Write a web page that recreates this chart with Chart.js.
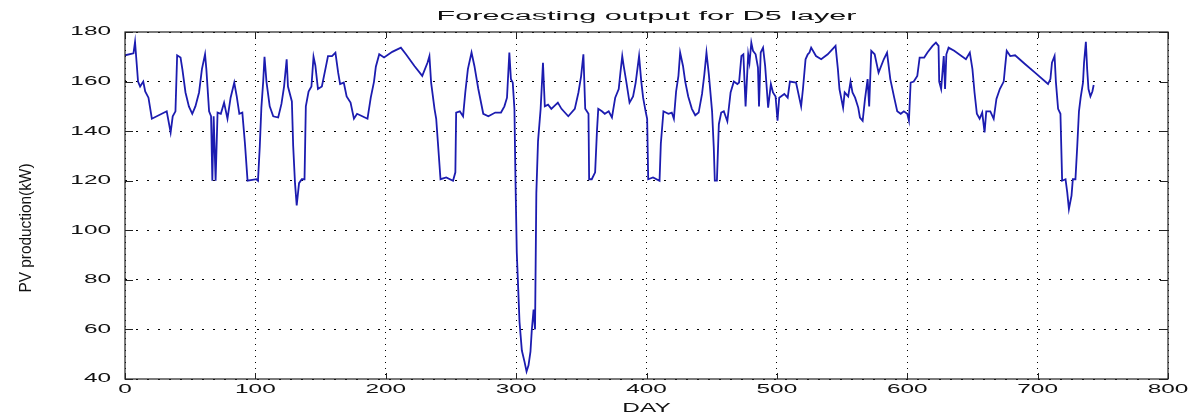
<!DOCTYPE html>
<html lang="en">
<head>
<meta charset="UTF-8">
<title>Forecasting output for D5 layer</title>
<script src="https://cdn.jsdelivr.net/npm/chart.js"></script>
<style>
    html, body { margin: 0; padding: 0; background: #fff; }
    canvas { display: block; }
</style>
</head>
<body>
<canvas id="pvChart" width="1201" height="419"></canvas>
<script>
// day of each reading
const days = [
    0, 6.5, 7.7, 9, 10, 11.6, 14, 15.5, 18, 20.6,
    32, 35, 36.6, 38.7, 40, 42.6, 44, 46.4, 49, 51.6,
    54, 56.8, 59, 61.4, 62.4, 64.5, 66, 67, 68, 69.5,
    71, 73.5, 76, 78.6, 81, 83.8, 85.7, 87.7, 90, 92,
    94, 100.8, 102, 103.4, 104.6, 106, 107, 108.5, 111, 113.7,
    117.5, 120, 122, 124, 125, 128, 129, 130.4, 131.7, 133.5,
    135.6, 137.7, 138.7, 140.8, 143, 144.6, 146, 148, 151, 153.7,
    155.7, 158.8, 161.4, 163.5, 165, 167.8, 170, 173, 175.6, 178,
    182, 186, 188.5, 191, 192.4, 195, 198.7, 205, 211.6, 215.5,
    222, 228, 232, 233.5, 234.8, 237.4, 238.7, 240, 242, 246.4,
    251.6, 253.4, 254, 256.8, 259.3, 261, 263, 265.8, 268, 271,
    274.8, 278.7, 284, 288.4, 291, 293, 294.8, 296, 297.4, 298.7,
    299.5, 300.5, 302.6, 304.4, 306.5, 308, 309.5, 311, 312, 313.4,
    314.5, 315.5, 316.8, 318.8, 320.6, 322, 324.5, 327, 332, 334.8,
    340, 345, 347.8, 349.8, 351.6, 353, 355.5, 356, 358, 360.6,
    362, 363, 365.8, 368, 371, 373.5, 376, 378.7, 380, 381.4,
    382.5, 384.5, 387, 389.7, 391.7, 394.3, 396, 397.4, 399.5, 400.5,
    401.3, 405, 410, 411, 413, 416.8, 419.4, 421, 422.7, 424.5,
    425.8, 428, 429.7, 432, 434.8, 437.4, 440, 442.6, 444.4, 446,
    447.8, 450.3, 451.6, 452.4, 454, 455.5, 457.3, 459.3, 462, 464.5,
    467, 469.7, 471, 472.8, 474.3, 476, 478, 479, 480.4, 481.7,
    483.7, 485.5, 486.3, 487.6, 489.4, 491, 492, 493.3, 495.4, 497,
    499, 500.5, 501.8, 505.7, 508.3, 510, 514.7, 518.6, 520, 522,
    523.7, 525, 526.3, 530, 534, 539, 545, 546.8, 548, 550.8,
    552, 554.7, 556.5, 558, 560, 562.4, 563.7, 565.8, 567.6, 569.6,
    570.8, 572.4, 575, 578, 582, 584.5, 587, 590, 592.3, 595,
    597.4, 600, 601.3, 602.6, 605, 607.7, 609.5, 613, 615.5, 619.4,
    622, 624, 624.5, 626, 628, 629, 630, 631.7, 636, 645,
    648, 650, 651.6, 653.4, 655.5, 657.5, 659.3, 660.6, 663.7, 666.3,
    668.4, 671, 674, 675, 676.3, 679, 682.7, 690.5, 698, 708,
    709.8, 711, 713, 714, 715.7, 717.5, 718.8, 721.4, 722.7, 724,
    726, 727, 729, 730.4, 731.7, 733, 734.8, 735.6, 737, 738,
    739, 740.5, 742, 743
];

// PV production (kW) for each day above
const pvOutput = [
    170.6, 171.4, 176, 167, 160, 158, 160, 156, 153.5, 145,
    148, 139.5, 146, 148, 170.6, 169.7, 165, 155.6, 150, 147,
    150, 155.6, 165, 171, 165, 148, 146, 120, 146, 120,
    147.5, 147, 151.5, 145, 153.5, 159.6, 154, 147, 147.5, 135,
    120, 120.6, 120, 134, 149.5, 160, 170, 160, 150, 146,
    145.5, 151, 158, 169, 158, 152, 134, 119, 110, 119,
    120.6, 120.6, 150, 156, 158, 170, 166.5, 157, 158, 165,
    170.3, 170.3, 171.7, 163.6, 159, 159.6, 154, 151.5, 145, 147,
    146, 145, 153.5, 160, 166, 171, 169.7, 172, 173.7, 171,
    166.3, 162.3, 167.6, 170.3, 159.6, 149, 145, 135.4, 120.6, 121.3,
    120, 123.4, 147.5, 148, 146, 155.6, 165, 171.7, 166.3, 157,
    147, 146, 147.5, 147.5, 150, 153.5, 171.7, 161, 159.6, 149,
    120.6, 91, 63, 51.5, 46.8, 43, 45.5, 51, 59.6, 68,
    60, 115, 136, 149, 167.6, 150, 150.7, 149, 151.5, 149,
    146, 149, 155.6, 162, 171, 149, 147, 120.6, 120.6, 123.4,
    140, 149, 148, 147, 148, 145.5, 153.5, 157, 163.6, 170.3,
    166.3, 160, 151.5, 154, 159.6, 170.3, 160, 153.5, 147.5, 145,
    120.6, 121.3, 120, 135, 148, 147, 147.5, 145, 156, 162.3,
    171.7, 166.3, 160, 154, 149, 146.4, 147.5, 155, 163, 171.7,
    163, 148, 133.4, 120, 120, 142.8, 147.5, 148, 144, 155.6,
    160, 159, 159.6, 170.3, 171, 150, 171, 167.6, 175.7, 172.4,
    171, 165.6, 150, 171.7, 173.7, 166.3, 159, 149.5, 159, 155.6,
    154, 144.2, 153.5, 155, 153.5, 160, 159.6, 150, 157, 169,
    171, 171.7, 173.7, 170.3, 169, 171, 174.4, 165, 157, 149.5,
    155.6, 154, 160, 155.6, 153.5, 149.5, 145.5, 144.2, 153, 161,
    150, 172.4, 171, 163.6, 169, 171.7, 161, 153.5, 148, 147,
    148, 147, 144.2, 159.6, 160, 162.3, 169.7, 169.7, 171.7, 174.4,
    175.7, 174.4, 160, 157, 170.3, 157, 171, 173.7, 172.4, 169,
    171.7, 165, 155.6, 147, 145, 147.5, 139.5, 148, 148, 145,
    153, 157, 160, 165.6, 172.4, 170.3, 170.6, 167, 163.6, 159,
    161, 167.6, 170.3, 160, 149, 147, 120, 120.6, 115.4, 108.6,
    114, 120.6, 120.6, 134, 148, 153.5, 159.6, 167.6, 176, 165,
    157, 154, 156, 158.6
];

const xTicks = [0, 100, 200, 300, 400, 500, 600, 700, 800];
const yTicks = [40, 60, 80, 100, 120, 140, 160, 180];

const chartTitle = 'Forecasting output for D5 layer';
const xTitle = 'DAY';
const yTitle = 'PV production(kW)';

const FONT = '"Liberation Sans", Arial, sans-serif';

// text widened horizontally, like the original screenshot
function wideText(ctx, text, x, y, sx, align) {
    ctx.save();
    ctx.translate(x, y);
    ctx.scale(sx, 1);
    ctx.textAlign = align;
    ctx.fillText(text, 0, 0);
    ctx.restore();
}

const matlabFrame = {
    id: 'matlabFrame',
    afterDraw(chart) {
        const ctx = chart.ctx;
        const area = chart.chartArea;
        const xs = chart.scales.x;
        const ys = chart.scales.y;

        // box and inner ticks
        ctx.save();
        ctx.strokeStyle = '#222';
        ctx.lineWidth = 1.2;
        ctx.strokeRect(area.left, area.top, area.right - area.left, area.bottom - area.top);
        ctx.lineWidth = 1;
        ctx.beginPath();
        xTicks.forEach(v => {
            const px = Math.round(xs.getPixelForValue(v)) + 0.5;
            ctx.moveTo(px, area.bottom); ctx.lineTo(px, area.bottom - 6);
            ctx.moveTo(px, area.top); ctx.lineTo(px, area.top + 6);
        });
        yTicks.forEach(v => {
            const py = Math.round(ys.getPixelForValue(v)) + 0.5;
            ctx.moveTo(area.left, py); ctx.lineTo(area.left + 8, py);
            ctx.moveTo(area.right, py); ctx.lineTo(area.right - 8, py);
        });
        ctx.stroke();
        ctx.restore();

        ctx.save();
        ctx.fillStyle = '#111';

        // tick labels
        ctx.font = '12.5px ' + FONT;
        ctx.textBaseline = 'alphabetic';
        xTicks.forEach(v => {
            wideText(ctx, String(v), xs.getPixelForValue(v), 393, 1.95, 'center');
        });
        ctx.textBaseline = 'middle';
        yTicks.forEach(v => {
            wideText(ctx, String(v), 111, ys.getPixelForValue(v), 1.95, 'right');
        });

        // axis titles
        ctx.textBaseline = 'alphabetic';
        wideText(ctx, xTitle, (area.left + area.right) / 2, 412, 1.95, 'center');

        // title
        ctx.font = '12px ' + FONT;
        const tw = ctx.measureText(chartTitle).width;
        wideText(ctx, chartTitle, (area.left + area.right) / 2, 20, 420 / tw, 'center');

        // y title, rotated and thickened across the text direction
        ctx.font = '13px ' + FONT;
        const yw = ctx.measureText(yTitle).width;
        ctx.save();
        ctx.translate(27, 228);
        ctx.rotate(-Math.PI / 2);
        ctx.scale(129 / yw, 1.25);
        ctx.textAlign = 'center';
        ctx.textBaseline = 'middle';
        ctx.fillText(yTitle, 0, 0);
        ctx.restore();

        ctx.restore();
    }
};

new Chart(document.getElementById('pvChart').getContext('2d'), {
    type: 'line',
    data: {
        datasets: [{
            data: days.map((d, i) => ({ x: d, y: pvOutput[i] })),
            borderColor: '#1c1cb0',
            borderWidth: 1.8,
            pointRadius: 0,
            tension: 0,
            fill: false
        }]
    },
    options: {
        responsive: false,
        devicePixelRatio: 1,
        animation: false,
        layout: { padding: { top: 32, right: 33, left: 0, bottom: 0 } },
        plugins: {
            legend: { display: false },
            tooltip: { enabled: false }
        },
        scales: {
            x: {
                type: 'linear',
                min: 0,
                max: 800,
                afterBuildTicks: s => { s.ticks = xTicks.map(v => ({ value: v })); },
                afterFit: s => { s.height = 40; },
                ticks: { display: false },
                grid: { color: '#000', lineWidth: 1, drawTicks: false },
                border: { display: false, dash: [1, 5] }
            },
            y: {
                min: 40,
                max: 180,
                afterBuildTicks: s => { s.ticks = yTicks.map(v => ({ value: v })); },
                afterFit: s => { s.width = 125; },
                ticks: { display: false },
                grid: { color: '#000', lineWidth: 1, drawTicks: false },
                border: { display: false, dash: [2, 9] }
            }
        }
    },
    plugins: [matlabFrame]
});
</script>
</body>
</html>
